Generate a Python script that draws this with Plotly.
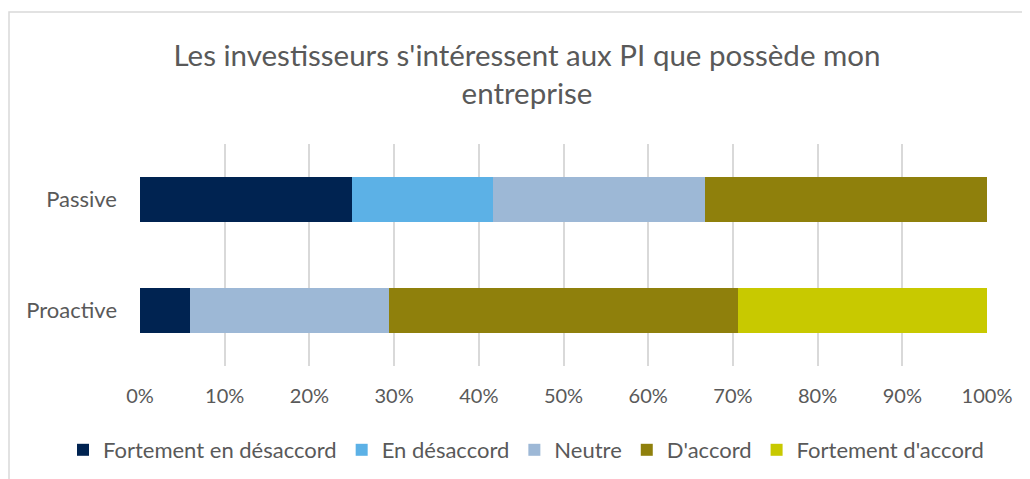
import plotly.graph_objects as go

categories = ["Passive", "Proactive"]
series_names = ["Fortement en désaccord", "En désaccord", "Neutre", "D'accord", "Fortement d'accord"]
passive = [25.0, 16.67, 25.0, 33.33, 0.0]
proactive = [5.88, 0.0, 23.53, 41.18, 29.41]
colors = ["#002351", "#5cb1e6", "#9db8d6", "#8f800c", "#c8c900"]
tick_vals = [0, 10, 20, 30, 40, 50, 60, 70, 80, 90, 100]
tick_text = [f"{v}%" for v in tick_vals]

FONT = "Lato"
TXT = "#595959"

# page is offset by the 8px body margin; layout pixels below are figure coords
PL, PR, PT, PB = 132, 979, 136, 358
PW, PH = PR - PL, PB - PT

fig = go.Figure()
for i, name in enumerate(series_names):
    fig.add_trace(go.Bar(
        y=categories,
        x=[passive[i], proactive[i]],
        name=name,
        orientation="h",
        marker=dict(color=colors[i], line=dict(width=0)),
    ))

fig.update_layout(
    width=1030, height=479,
    barmode="stack",
    bargap=0.6,
    plot_bgcolor="white",
    paper_bgcolor="white",
    margin=dict(l=PL, r=1030 - PR, t=PT, b=479 - PB, autoexpand=False),
    font=dict(family=FONT, color=TXT, size=20),
    title=dict(
        text="Les investisseurs s'intéressent aux PI que possède mon<br>entreprise",
        xref="container", x=519/1030, xanchor="center",
        yref="container", y=1 - 57.5/479, yanchor="middle",
        font=dict(family=FONT, size=29.5, color=TXT),
    ),
    xaxis=dict(
        range=[0, 100], tickvals=tick_vals, ticktext=tick_text,
        showgrid=True, gridcolor="#d9d9d9", gridwidth=1.5,
        zeroline=False, showline=False,
        ticklabelstandoff=16,
        tickfont=dict(size=20, color=TXT),
        fixedrange=True,
    ),
    yaxis=dict(
        categoryorder="array", categoryarray=["Proactive", "Passive"],
        showgrid=False, zeroline=False, showline=False,
        ticklabelstandoff=22,
        tickfont=dict(size=22, color=TXT),
    ),
    legend=dict(
        orientation="h", traceorder="normal",
        xref="paper", x=(55 - PL) / PW, xanchor="left",
        y=(PB - 442) / PH, yanchor="middle",
        font=dict(size=22, color=TXT),
        bgcolor="rgba(0,0,0,0)",
        itemwidth=30,
    ),
    shapes=[dict(
        type="rect", xref="paper", yref="paper",
        x0=(1 - PL) / PW, x1=(1040 - PL) / PW,
        y0=(PB - 490) / PH, y1=(PB - 4) / PH,
        line=dict(color="#d9d9d9", width=1.5), fillcolor="rgba(0,0,0,0)",
        layer="below",
    )],
)

fig.write_html("out.html")
